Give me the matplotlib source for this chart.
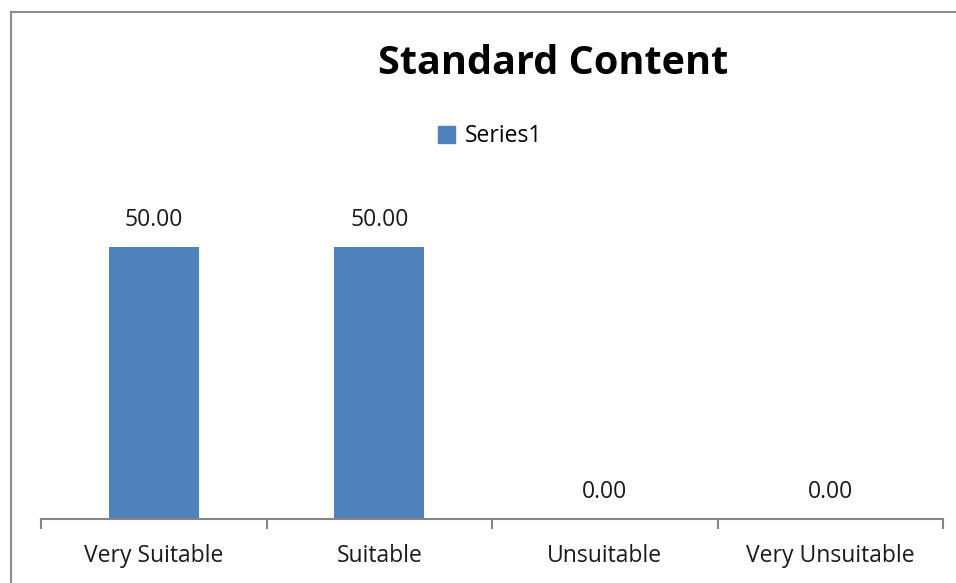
import matplotlib
matplotlib.use("Agg")
import matplotlib.pyplot as plt
from matplotlib.lines import Line2D
from matplotlib.patches import Patch

categories = ["Very Suitable", "Suitable", "Unsuitable", "Very Unsuitable"]
values = [50.0, 50.0, 0.0, 0.0]
series_name = "Series1"
title = "Standard Content"

W, H = 956, 583
fig = plt.figure(figsize=(W / 100, H / 100), dpi=100)
plt.rcParams['font.family'] = ['Open Sans', 'DejaVu Sans']

def fx(x): return x / W
def fy(y): return 1 - y / H

ax = fig.add_axes([fx(41), fy(519), fx(943) - fx(41), fy(192.6) - fy(519)])
x = range(len(categories))
bars = ax.bar(x, values, width=0.4, color="#4F81BD", label=series_name, zorder=2)
ax.set_xlim(-0.5, len(categories) - 0.5)
ax.set_ylim(0, 60)

for xi, v in zip(x, values):
    ax.annotate(f"{v:.2f}", (xi, v), xytext=(0, 19.5), textcoords="offset points",
                ha="center", va="center", fontsize=16.5, color="#1a1a1a")

for s in ["top", "right", "left"]:
    ax.spines[s].set_visible(False)
ax.spines["bottom"].set_color("#868686")
ax.spines["bottom"].set_linewidth(1.5)
ax.set_yticks([])
ax.set_xticks([i - 0.5 for i in range(len(categories) + 1)], minor=False)
ax.set_xticklabels([])
ax.tick_params(axis="x", which="major", length=7, width=1.5, color="#868686", direction="out")
ax.set_xticks(list(x), minor=True)
ax.set_xticklabels(categories, minor=True, fontsize=16.5, color="#1a1a1a")
ax.tick_params(axis="x", which="minor", length=0, pad=18)

fig.text(fx(553), fy(63), title, ha="center", va="center", fontsize=28.5, fontweight="bold")
fig.legend(handles=[Patch(color="#4F81BD", label=series_name)], loc="center",
           bbox_to_anchor=(fx(490), fy(136.5)), frameon=False, fontsize=16.5,
           handlelength=0.75, handleheight=0.75, handletextpad=0.45)

# chart border (top and left visible)
fig.add_artist(Line2D([fx(11), 1], [fy(12), fy(12)], color="#8c8c8c", lw=1.5))
fig.add_artist(Line2D([fx(11), fx(11)], [fy(12), 0], color="#8c8c8c", lw=1.5))

fig.savefig("out.png", dpi=100)
